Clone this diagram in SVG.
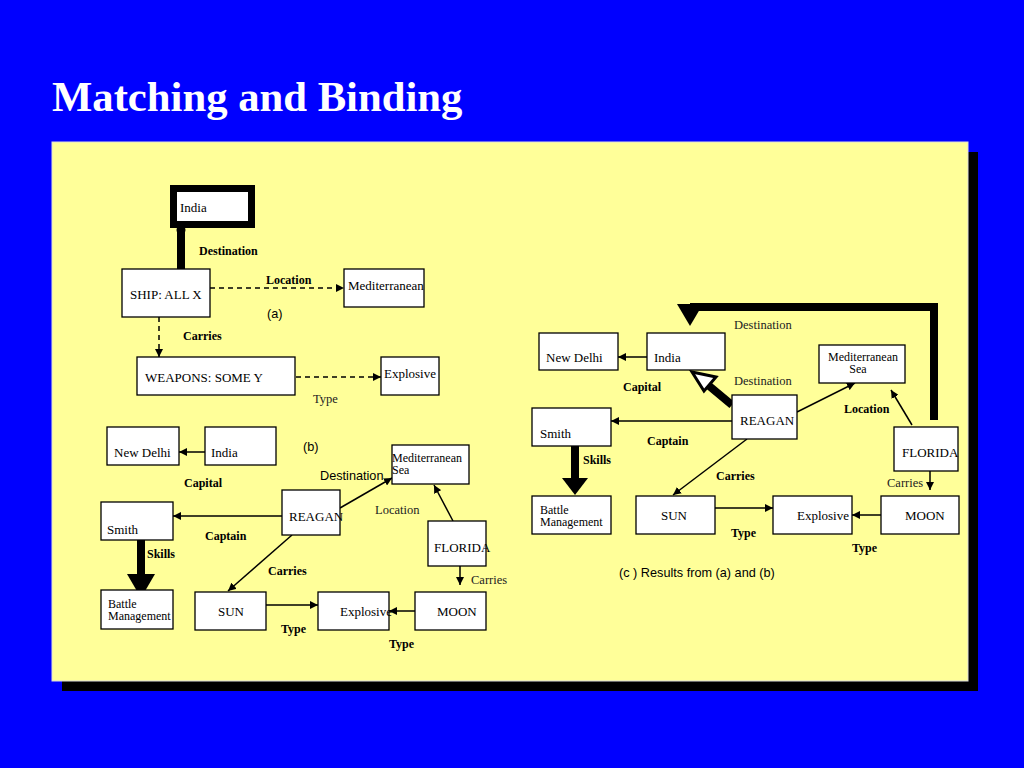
<svg xmlns="http://www.w3.org/2000/svg" width="1024" height="768" viewBox="0 0 1024 768">
<defs>
<marker id="ah" viewBox="0 0 10 10" refX="10" refY="5" markerWidth="8" markerHeight="8" markerUnits="userSpaceOnUse" orient="auto"><path d="M0,0 L10,5 L0,10 z" fill="#000"/></marker>
</defs>
<style>
.box{fill:#fff;stroke:#000;stroke-width:1.3}
.t{font-family:"Liberation Serif",serif;font-size:13px;fill:#000}
.m{font-family:"Liberation Serif",serif;font-size:12px;fill:#000}
.r{font-family:"Liberation Serif",serif;font-size:12.5px;fill:#222}
.b{font-family:"Liberation Serif",serif;font-size:12px;font-weight:bold;fill:#000}
.s{font-family:"Liberation Sans",sans-serif;font-size:12.7px;fill:#000}
.ln{stroke:#000;stroke-width:1.5;fill:none;marker-end:url(#ah)}
.dl{stroke:#000;stroke-width:1.5;fill:none;stroke-dasharray:5,4;marker-end:url(#ah)}
</style>
<rect x="0" y="0" width="1024" height="768" fill="#0000FF"/>
<text x="52" y="111" font-family="Liberation Serif,serif" font-size="42.7" font-weight="bold" fill="#fff">Matching and Binding</text>
<rect x="62" y="152" width="916" height="539" fill="#000"/>
<rect x="52" y="142" width="916" height="539" fill="#FFFF99" stroke="#ddd" stroke-width="1"/>

<g id="connectors">
<!-- (a) -->
<path d="M181,226 V270" stroke="#000" stroke-width="8" fill="none"/>
<circle cx="181" cy="230" r="4.5" fill="#000"/>
<path d="M210,288 H344" class="dl"/>
<path d="M159,317 V357" class="dl"/>
<path d="M296,377 H381" class="dl"/>
<!-- (b) -->
<path d="M205,452 H179" class="ln"/>
<path d="M282,516 H173" class="ln"/>
<path d="M141,540 V576" stroke="#000" stroke-width="8" fill="none"/>
<path d="M127,574 L155,574 L141,598 z" fill="#000"/>
<path d="M292,535 L228,591" class="ln"/>
<path d="M266,605 H318" class="ln"/>
<path d="M415,611 H389" class="ln"/>
<path d="M340,508 L392,478" class="ln"/>
<path d="M453,521 L434,485" class="ln"/>
<path d="M460,566 V585" class="ln"/>
<!-- (c) -->
<path d="M934,420 V307 H690" stroke="#000" stroke-width="8" fill="none"/>
<path d="M677,304 L703,304 L690,326 z" fill="#000"/>
<path d="M647,357 H618" class="ln"/>
<path d="M732,405 L708,385" stroke="#000" stroke-width="8" fill="none"/>
<path d="M692,372 L716,377 L704,391 z" fill="#fff" stroke="#000" stroke-width="3"/>
<path d="M797,412 L855,383" class="ln"/>
<path d="M912,425 L891,390" class="ln"/>
<path d="M732,421 H611" class="ln"/>
<path d="M575,446 V480" stroke="#000" stroke-width="8" fill="none"/>
<path d="M562,478 L588,478 L575,495 z" fill="#000"/>
<path d="M747,439 L673,495" class="ln"/>
<path d="M715,508 H773" class="ln"/>
<path d="M881,515 H852" class="ln"/>
<path d="M930,471 V490" class="ln"/>
</g>

<g id="labels">
<text x="199" y="255" class="b">Destination</text>
<text x="266" y="284" class="b">Location</text>
<text x="267" y="318" class="s">(a)</text>
<text x="183" y="340" class="b">Carries</text>
<text x="313" y="403" class="r">Type</text>
<text x="303" y="451" class="s">(b)</text>
<text x="184" y="487" class="b">Capital</text>
<text x="205" y="540" class="b">Captain</text>
<text x="147" y="558" class="b">Skills</text>
<text x="268" y="575" class="b">Carries</text>
<text x="281" y="633" class="b">Type</text>
<text x="389" y="648" class="b">Type</text>
<text x="320" y="480" class="s">Destination</text>
<text x="375" y="514" class="r">Location</text>
<text x="471" y="584" class="r">Carries</text>
<text x="734" y="329" class="r">Destination</text>
<text x="734" y="385" class="r">Destination</text>
<text x="623" y="391" class="b">Capital</text>
<text x="844" y="413" class="b">Location</text>
<text x="647" y="445" class="b">Captain</text>
<text x="583" y="464" class="b">Skills</text>
<text x="716" y="480" class="b">Carries</text>
<text x="887" y="487" class="r">Carries</text>
<text x="731" y="537" class="b">Type</text>
<text x="852" y="552" class="b">Type</text>
<text x="619" y="577" class="s">(c ) Results from (a) and (b)</text>
</g>

<g id="a-india"><rect x="173.5" y="188.5" width="78" height="36" fill="#fff" stroke="#000" stroke-width="7"/><text x="180" y="212" class="t">India</text></g>
<g id="a-ship"><rect x="122" y="269" width="88" height="48" class="box"/><text x="130" y="299" class="t">SHIP: ALL X</text></g>
<g id="a-med"><rect x="344" y="269" width="80" height="38" class="box"/><text x="348" y="290" class="t">Mediterranean</text></g>
<g id="a-weapons"><rect x="137" y="357" width="158" height="38" class="box"/><text x="145" y="382" class="t">WEAPONS: SOME Y</text></g>
<g id="a-explosive"><rect x="381" y="357" width="58" height="38" class="box"/><text x="384" y="378" class="t">Explosive</text></g>

<g id="b-newdelhi"><rect x="107" y="427" width="72" height="38" class="box"/><text x="114" y="457" class="t">New Delhi</text></g>
<g id="b-india"><rect x="205" y="427" width="71" height="38" class="box"/><text x="211" y="457" class="t">India</text></g>
<g id="b-smith"><rect x="101" y="502" width="72" height="38" class="box"/><text x="107" y="534" class="t">Smith</text></g>
<g id="b-reagan"><rect x="282" y="490" width="58" height="45" class="box"/><text x="289" y="521" class="t">REAGAN</text></g>
<g id="b-battle"><rect x="101" y="590" width="72" height="39" class="box"/><text x="108" y="608" class="m">Battle</text><text x="108" y="620" class="m">Management</text></g>
<g id="b-sun"><rect x="195" y="592" width="71" height="38" class="box"/><text x="218" y="616" class="t">SUN</text></g>
<g id="b-explosive"><rect x="318" y="592" width="71" height="38" class="box"/><text x="340" y="616" class="t">Explosive</text></g>
<g id="b-moon"><rect x="415" y="592" width="71" height="38" class="box"/><text x="437" y="616" class="t">MOON</text></g>
<g id="b-med"><rect x="392" y="445" width="77" height="39" class="box"/><text x="392" y="462" class="m">Mediterranean</text><text x="392" y="474" class="m">Sea</text></g>
<g id="b-florida"><rect x="428" y="521" width="58" height="45" class="box"/><text x="434" y="552" class="t">FLORIDA</text></g>

<g id="c-newdelhi"><rect x="539" y="333" width="79" height="37" class="box"/><text x="546" y="362" class="t">New Delhi</text></g>
<g id="c-india"><rect x="647" y="333" width="78" height="37" class="box"/><text x="654" y="362" class="t">India</text></g>
<g id="c-med"><rect x="819" y="345" width="86" height="38" class="box"/><text x="863" y="361" class="m" text-anchor="middle">Mediterranean</text><text x="858" y="373" class="m" text-anchor="middle">Sea</text></g>
<g id="c-reagan"><rect x="732" y="395" width="65" height="44" class="box"/><text x="740" y="425" class="t">REAGAN</text></g>
<g id="c-florida"><rect x="894" y="427" width="64" height="44" class="box"/><text x="902" y="457" class="t">FLORIDA</text></g>
<g id="c-smith"><rect x="532" y="408" width="79" height="38" class="box"/><text x="540" y="438" class="t">Smith</text></g>
<g id="c-battle"><rect x="532" y="496" width="79" height="38" class="box"/><text x="540" y="514" class="m">Battle</text><text x="540" y="526" class="m">Management</text></g>
<g id="c-sun"><rect x="636" y="496" width="79" height="38" class="box"/><text x="661" y="520" class="t">SUN</text></g>
<g id="c-explosive"><rect x="773" y="496" width="79" height="38" class="box"/><text x="797" y="520" class="t">Explosive</text></g>
<g id="c-moon"><rect x="881" y="496" width="78" height="38" class="box"/><text x="905" y="520" class="t">MOON</text></g>
</svg>
